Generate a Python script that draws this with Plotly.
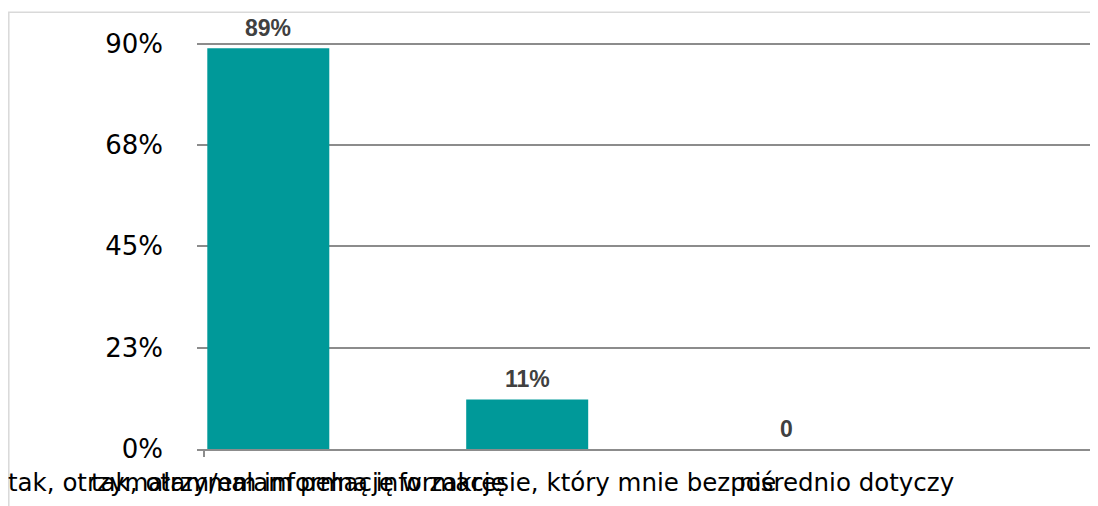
import plotly.graph_objects as go

# ---- data ----
categories = [
    "tak, otrzymałam pełną informację",
    "tak, otrzymałam/em informację w zakresie, który mnie bezpośrednio dotyczy",
    "nie",
]
values = [89, 11, 0]
value_labels = ["89%", "11%", "0"]
y_tickvals = [0, 22.5, 45, 67.5, 90]
y_ticktext = ["0%", "23%", "45%", "68%", "90%"]

# ---- layout geometry (pixels, page coords minus the 8px body margin) ----
OFF = 8
W, H = 1098, 506
L, R, T, B = 197 - OFF, W, 35 - OFF, 449 - OFF
PX_PER_CAT = 258.9
X0_PX = 268.3 - OFF


def px_x(p):
    return (p - OFF - L) / (R - L)


def px_y(p):
    return (B - (p - OFF)) / (B - T)


unit = (B - (43.7 - OFF)) / 90.0
y_top = (B - T) / unit
x_left = (L - X0_PX) / PX_PER_CAT
x_right = (R - X0_PX) / PX_PER_CAT

fig = go.Figure()
fig.add_trace(go.Bar(
    x=categories, y=values,
    width=122 / PX_PER_CAT,
    marker=dict(color="#009999", line=dict(width=0)),
    hoverinfo="skip",
))

annotations = []
for c, v, t in zip(categories, values, value_labels):
    annotations.append(dict(
        x=c, y=v, xref="x", yref="y", text="<b>%s</b>" % t,
        showarrow=False, yanchor="bottom", yshift=6, borderpad=0,
        font=dict(family="Liberation Sans, Arial, sans-serif", size=23, color="#404040"),
    ))

# category labels (overlapping as in the original rendering)
label_font = dict(family="DejaVu Sans, Verdana, sans-serif", size=24.5, color="#000000")
label_pos = [(90, "left"), (7, "left"), (757, "center")]
for c, (px, anchor) in zip(categories, label_pos):
    annotations.append(dict(
        x=px_x(px), y=px_y(467), xref="paper", yref="paper", text=c,
        showarrow=False, xanchor=anchor, yanchor="top", borderpad=0,
        font=label_font,
    ))

tick_x = (204 - OFF - X0_PX) / PX_PER_CAT
shapes = [
    # outer chart border
    dict(type="rect", xref="paper", yref="paper",
         x0=px_x(8.8), x1=px_x(1130), y0=px_y(540), y1=px_y(12.3),
         line=dict(color="#d9d9d9", width=1.5), fillcolor="rgba(0,0,0,0)", layer="below"),
    # small tick at category axis start
    dict(type="line", xref="x", yref="paper",
         x0=tick_x, x1=tick_x, y0=0, y1=px_y(457),
         line=dict(color="#8c8c8c", width=2)),
]

fig.update_layout(
    width=W, height=H,
    margin=dict(l=L, r=W - R, t=T, b=H - B),
    paper_bgcolor="white", plot_bgcolor="white",
    showlegend=False,
    annotations=annotations,
    shapes=shapes,
    xaxis=dict(
        type="category", range=[x_left, x_right],
        showticklabels=False, ticks="", showgrid=False,
        showline=True, linecolor="#8c8c8c", linewidth=2,
        fixedrange=True,
    ),
    yaxis=dict(
        range=[0, y_top], tickmode="array",
        tickvals=y_tickvals, ticktext=y_ticktext,
        showgrid=True, gridcolor="#8c8c8c", gridwidth=2,
        zeroline=False, showline=False, ticks="",
        ticklabelstandoff=33,
        tickfont=dict(family="DejaVu Sans, Verdana, sans-serif", size=26, color="#000000"),
        fixedrange=True,
    ),
)

fig.write_html("out.html")
